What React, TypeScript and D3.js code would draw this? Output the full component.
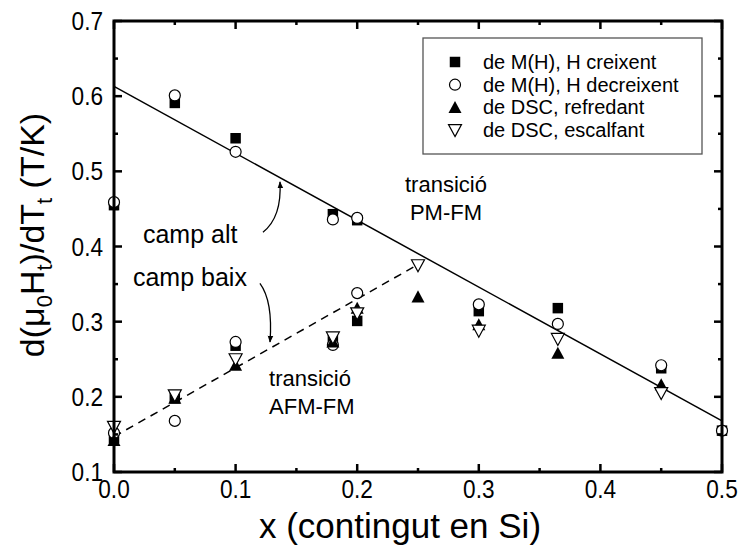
import React from "react";
import * as d3 from "d3";

// x = contingut en Si, y = d(mu0 Ht)/dTt (T/K)
const creixentX = [0, 0.05, 0.1, 0.18, 0.2, 0, 0.05, 0.1, 0.18, 0.2, 0.3, 0.365, 0.45, 0.5];
const creixentY = [0.455, 0.591, 0.544, 0.443, 0.435, 0.145, 0.198, 0.268, 0.276, 0.301, 0.314, 0.318, 0.238, 0.155];

const decreixentX = [0, 0.05, 0.1, 0.18, 0.2, 0, 0.05, 0.1, 0.18, 0.2, 0.3, 0.365, 0.45, 0.5];
const decreixentY = [0.459, 0.601, 0.526, 0.436, 0.438, 0.152, 0.168, 0.273, 0.269, 0.338, 0.323, 0.297, 0.242, 0.155];

const refredantX = [0, 0.05, 0.1, 0.18, 0.2, 0.25, 0.3, 0.365, 0.45];
const refredantY = [0.142, 0.198, 0.242, 0.273, 0.318, 0.333, 0.296, 0.258, 0.216];

const escalfantX = [0, 0.05, 0.1, 0.18, 0.2, 0.25, 0.3, 0.365, 0.45];
const escalfantY = [0.16, 0.202, 0.25, 0.279, 0.311, 0.375, 0.288, 0.277, 0.205];

// fitted lines
const campAltX = [0, 0.5];
const campAltY = [0.613, 0.168];
const campBaixX = [0, 0.25];
const campBaixY = [0.147, 0.376];

const xTicks = [0, 0.1, 0.2, 0.3, 0.4, 0.5];
const yTicks = [0.1, 0.2, 0.3, 0.4, 0.5, 0.6, 0.7];

const legendLabels = [
  "de M(H), H creixent",
  "de M(H), H decreixent",
  "de DSC, refredant",
  "de DSC, escalfant",
];

const W = 742;
const H = 546;
const margin = { top: 21, right: 20, bottom: 74, left: 114 };
const FONT = "'Liberation Sans', Arial, Helvetica, sans-serif";

const x = d3.scaleLinear().domain([0, 0.5]).range([margin.left, W - margin.right]);
const y = d3.scaleLinear().domain([0.1, 0.7]).range([H - margin.bottom, margin.top]);

const zip = (xs: number[], ys: number[]) => xs.map((v, i) => [v, ys[i]] as [number, number]);

const sq = d3.symbol(d3.symbolSquare, 110)();
const tri = (up: boolean) => {
  const s = 6.5;
  return up
    ? `M0,${-s}L${s},${s * 0.85}L${-s},${s * 0.85}Z`
    : `M0,${s}L${s},${-s * 0.85}L${-s},${-s * 0.85}Z`;
};

const Marker = ({ kind, cx, cy }: { kind: number; cx: number; cy: number }) => {
  const t = `translate(${cx},${cy})`;
  if (kind === 0) return <path d={sq} transform={t} fill="#000" />;
  if (kind === 1) return <circle cx={cx} cy={cy} r={5.5} fill="#fff" stroke="#000" strokeWidth={1.2} />;
  if (kind === 2) return <path d={tri(true)} transform={t} fill="#000" />;
  return <path d={tri(false)} transform={t} fill="#fff" stroke="#000" strokeWidth={1.2} />;
};

export default function App() {
  const line = d3
    .line<[number, number]>()
    .x((d) => x(d[0]))
    .y((d) => y(d[1]));

  const series = [
    zip(creixentX, creixentY),
    zip(decreixentX, decreixentY),
    zip(refredantX, refredantY),
    zip(escalfantX, escalfantY),
  ];

  const minorX = d3.range(0, 0.5001, 0.05);
  const minorY = d3.range(0.1, 0.7001, 0.05);
  const x0 = margin.left;
  const x1 = W - margin.right;
  const y0 = H - margin.bottom;
  const y1 = margin.top;

  const isMajor = (v: number) => Math.abs(v * 10 - Math.round(v * 10)) < 1e-6;

  // arrow curves in data units
  const altTail: [number, number] = [0.1225, 0.419];
  const altHead: [number, number] = [0.1365, 0.486];
  const baixTail: [number, number] = [0.12, 0.351];
  const baixHead: [number, number] = [0.1283, 0.273];

  const curve = (a: [number, number], b: [number, number], bend: number) => {
    const ax = x(a[0]), ay = y(a[1]), bx = x(b[0]), by = y(b[1]);
    const cx = bx + bend, cy = ay + (by - ay) * 0.3;
    return `M${ax},${ay}Q${cx},${cy} ${bx},${by}`;
  };

  return (
    <svg
      width={W}
      height={H}
      style={{ position: "absolute", left: 0, top: 0, background: "#fff" }}
      fontFamily={FONT}
    >
      <defs>
        <marker id="ah" viewBox="0 0 10 10" refX="9" refY="5" markerWidth="7" markerHeight="9" orient="auto" markerUnits="userSpaceOnUse">
          <path d="M0,1L10,5L0,9Z" fill="#000" />
        </marker>
      </defs>

      {/* fitted lines */}
      <path d={line(zip(campAltX, campAltY)) || ""} fill="none" stroke="#000" strokeWidth={1.5} />
      <path d={line(zip(campBaixX, campBaixY)) || ""} fill="none" stroke="#000" strokeWidth={1.5} strokeDasharray="8,6" />

      {/* markers */}
      {series.map((pts, k) =>
        pts.map((p, i) => <Marker key={`${k}-${i}`} kind={k} cx={x(p[0])} cy={y(p[1])} />)
      )}

      {/* ticks */}
      {minorX.map((v, i) => {
        const len = isMajor(v) ? 8 : 4;
        return (
          <g key={`tx${i}`} stroke="#000" strokeWidth={2.5}>
            <line x1={x(v)} x2={x(v)} y1={y0} y2={y0 - len} />
            <line x1={x(v)} x2={x(v)} y1={y1} y2={y1 + len} />
          </g>
        );
      })}
      {minorY.map((v, i) => {
        const len = isMajor(v) ? 8 : 4;
        return (
          <g key={`ty${i}`} stroke="#000" strokeWidth={2.5}>
            <line x1={x0} x2={x0 + len} y1={y(v)} y2={y(v)} />
            <line x1={x1} x2={x1 - len} y1={y(v)} y2={y(v)} />
          </g>
        );
      })}
      <rect x={x0} y={y1} width={x1 - x0} height={y0 - y1} fill="none" stroke="#000" strokeWidth={3} />

      {/* tick labels (slightly condensed like the original) */}
      {xTicks.map((v) => (
        <text key={`lx${v}`} transform={`translate(${x(v)},${y0 + 26}) scale(0.87,1)`} textAnchor="middle" fontSize={26}>
          {v.toFixed(1)}
        </text>
      ))}
      {yTicks.map((v) => (
        <text key={`ly${v}`} transform={`translate(${x0 - 11},${y(v) + 9}) scale(0.87,1)`} textAnchor="end" fontSize={26}>
          {v.toFixed(1)}
        </text>
      ))}

      {/* axis titles */}
      <text x={(x0 + x1) / 2 - 18} y={538} textAnchor="middle" fontSize={35}>
        x (contingut en Si)
      </text>
      <text transform={`translate(44,235) rotate(-90)`} textAnchor="middle" fontSize={34}>
        d(μ<tspan fontSize={22} dy={8}>0</tspan>
        <tspan dy={-8}>H</tspan>
        <tspan fontSize={22} dy={8}>t</tspan>
        <tspan dy={-8}>)/dT</tspan>
        <tspan fontSize={22} dy={8}>t</tspan>
        <tspan dy={-8}> (T/K)</tspan>
      </text>

      {/* legend */}
      <rect x={423} y={38} width={279} height={116} fill="#fff" stroke="#555" strokeWidth={1.3} />
      {legendLabels.map((lab, i) => (
        <g key={lab}>
          <Marker kind={i} cx={455} cy={62 + i * 22.7} />
          <text x={483} y={62 + i * 22.7 + 7} fontSize={20}>
            {lab}
          </text>
        </g>
      ))}

      {/* annotations */}
      <text x={x(0.0238)} y={y(0.4045)} fontSize={25}>camp alt</text>
      <path d={curve(altTail, altHead, 2)} fill="none" stroke="#000" strokeWidth={1.3} markerEnd="url(#ah)" />
      <text x={x(0.0156)} y={y(0.347)} fontSize={25}>camp baix</text>
      <path d={curve(baixTail, baixHead, 3)} fill="none" stroke="#000" strokeWidth={1.3} markerEnd="url(#ah)" />

      <text x={x(0.273)} y={y(0.4723)} textAnchor="middle" fontSize={22}>transició</text>
      <text x={x(0.273)} y={y(0.435)} textAnchor="middle" fontSize={22}>PM-FM</text>
      <text x={x(0.1275)} y={y(0.2145)} fontSize={22}>transició</text>
      <text x={x(0.1275)} y={y(0.177)} fontSize={22}>AFM-FM</text>
    </svg>
  );
}
